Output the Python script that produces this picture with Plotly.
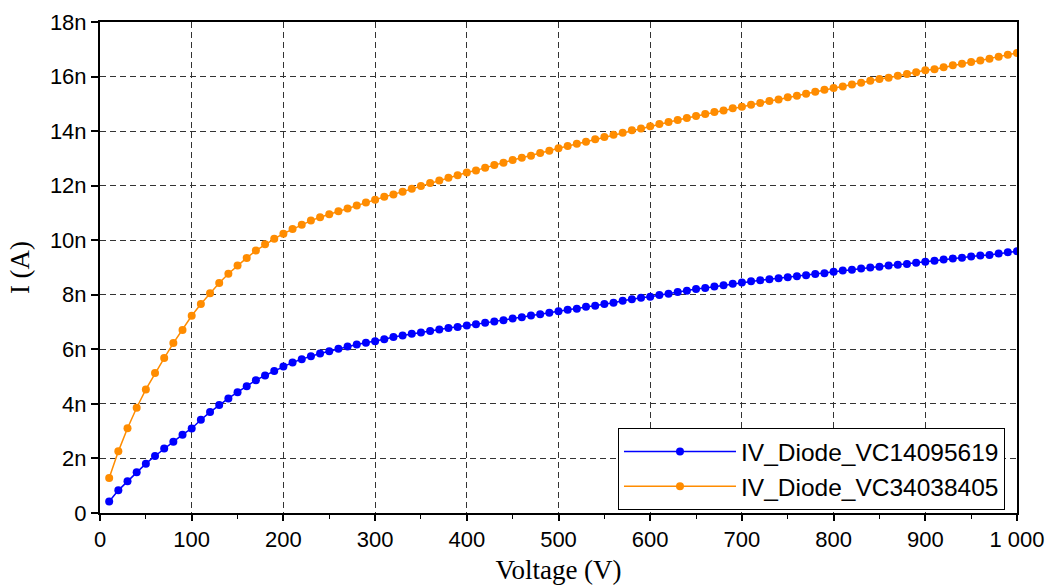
import plotly.graph_objects as go

voltage = [10, 20, 30, 40, 50, 60, 70, 80, 90, 100,
           110, 120, 130, 140, 150, 160, 170, 180, 190, 200,
           210, 220, 230, 240, 250, 260, 270, 280, 290, 300,
           310, 320, 330, 340, 350, 360, 370, 380, 390, 400,
           410, 420, 430, 440, 450, 460, 470, 480, 490, 500,
           510, 520, 530, 540, 550, 560, 570, 580, 590, 600,
           610, 620, 630, 640, 650, 660, 670, 680, 690, 700,
           710, 720, 730, 740, 750, 760, 770, 780, 790, 800,
           810, 820, 830, 840, 850, 860, 870, 880, 890, 900,
           910, 920, 930, 940, 950, 960, 970, 980, 990, 1000]

# currents in nA
i_vc14095619 = [0.42, 0.83, 1.16, 1.49, 1.81, 2.09, 2.36, 2.61, 2.87, 3.10,
                3.42, 3.70, 3.96, 4.20, 4.43, 4.65, 4.87, 5.04, 5.21, 5.37,
                5.52, 5.64, 5.75, 5.85, 5.93, 6.02, 6.10, 6.18, 6.24, 6.30,
                6.37, 6.45, 6.51, 6.57, 6.62, 6.67, 6.73, 6.78, 6.82, 6.87,
                6.92, 6.97, 7.02, 7.07, 7.13, 7.18, 7.24, 7.29, 7.34, 7.40,
                7.45, 7.49, 7.56, 7.60, 7.66, 7.71, 7.78, 7.84, 7.89, 7.93,
                7.99, 8.04, 8.10, 8.15, 8.21, 8.25, 8.30, 8.35, 8.40, 8.45,
                8.50, 8.53, 8.57, 8.61, 8.64, 8.68, 8.72, 8.76, 8.79, 8.84,
                8.89, 8.92, 8.96, 9.00, 9.03, 9.07, 9.10, 9.13, 9.17, 9.21,
                9.25, 9.29, 9.33, 9.36, 9.40, 9.44, 9.46, 9.51, 9.56, 9.60]

i_vc34038405 = [1.28, 2.26, 3.11, 3.86, 4.53, 5.13, 5.68, 6.23, 6.71, 7.23,
                7.66, 8.06, 8.43, 8.77, 9.07, 9.35, 9.62, 9.85, 10.05, 10.24,
                10.41, 10.57, 10.72, 10.84, 10.95, 11.06, 11.16, 11.27, 11.38, 11.48,
                11.59, 11.68, 11.78, 11.89, 11.99, 12.10, 12.19, 12.29, 12.38, 12.48,
                12.56, 12.66, 12.76, 12.84, 12.94, 13.02, 13.10, 13.20, 13.28, 13.37,
                13.45, 13.54, 13.61, 13.70, 13.78, 13.87, 13.94, 14.03, 14.10, 14.18,
                14.26, 14.33, 14.41, 14.48, 14.55, 14.63, 14.70, 14.76, 14.84, 14.89,
                14.97, 15.03, 15.10, 15.16, 15.24, 15.30, 15.37, 15.44, 15.52, 15.58,
                15.64, 15.71, 15.77, 15.85, 15.91, 15.96, 16.03, 16.09, 16.16, 16.23,
                16.27, 16.34, 16.41, 16.47, 16.53, 16.59, 16.65, 16.73, 16.80, 16.86]

series_names = ["IV_Diode_VC14095619", "IV_Diode_VC34038405"]
series_colors = ["#0000FF", "#FF8C00"]

NANO = 1e-9
fig = go.Figure()
for name, vals, col in zip(series_names, [i_vc14095619, i_vc34038405], series_colors):
    fig.add_trace(go.Scatter(
        x=voltage, y=[v * NANO for v in vals], name=name,
        mode="lines+markers",
        line=dict(color=col, width=1.5),
        marker=dict(color=col, size=8),
    ))

tick_font = dict(family="Liberation Sans, Arial, sans-serif", size=22, color="black")
title_font = dict(family="Liberation Serif, Times New Roman, serif", size=27, color="black")

fig.update_layout(
    width=1054, height=585,
    margin=dict(l=100, r=37, t=22, b=72),
    paper_bgcolor="white", plot_bgcolor="white",
    separators=". ",
    showlegend=True,
    legend=dict(
        x=0.9869, y=0.006, xanchor="right", yanchor="bottom",
        bgcolor="white", bordercolor="black", borderwidth=1,
        font=dict(family="Liberation Sans, Arial, sans-serif", size=24.5, color="black"),
        tracegroupgap=0, itemwidth=112,
    ),
)

fig.update_xaxes(
    range=[0, 1000], dtick=100, tick0=0, tickformat=",d", automargin=False,
    showline=True, linecolor="black", linewidth=2, mirror=True,
    ticks="outside", ticklen=6, tickwidth=1.5, tickcolor="black",
    minor=dict(dtick=50, ticks="outside", ticklen=4, tickwidth=1.2, tickcolor="black", showgrid=False),
    showgrid=True, gridcolor="#333333", gridwidth=1.3, griddash="6px,4px",
    zeroline=False, tickfont=tick_font,
    title=dict(text="Voltage (V)", font=title_font, standoff=10),
)
fig.update_yaxes(
    range=[0, 18e-9], dtick=2e-9, tick0=0, tickformat="~s", automargin=False,
    showline=True, linecolor="black", linewidth=2, mirror=True,
    ticks="outside", ticklen=7, tickwidth=1.5, tickcolor="black",
    showgrid=True, gridcolor="#333333", gridwidth=1.3, griddash="6px,4px",
    zeroline=False, tickfont=tick_font,
    title=dict(text="I (A)", font=title_font, standoff=12),
)

fig.write_html("out.html")
